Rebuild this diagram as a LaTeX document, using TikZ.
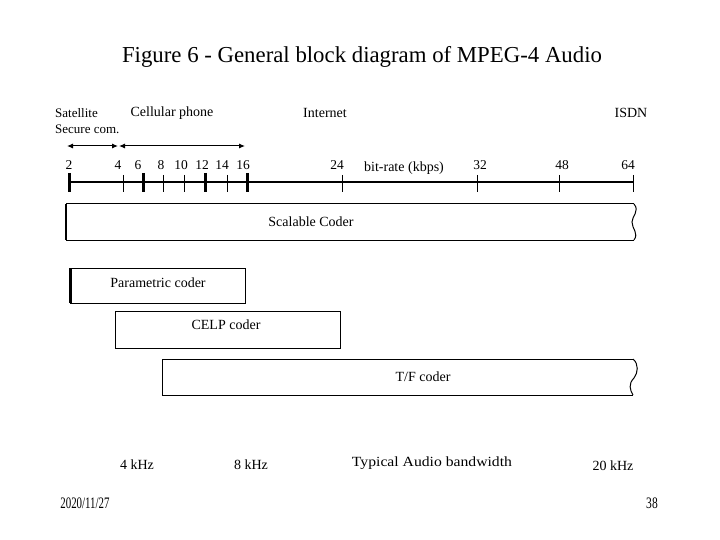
\documentclass[tikz,border=0pt]{standalone}
\usepackage{fontspec}
\setmainfont{Liberation Serif}
\usetikzlibrary{arrows.meta}
\begin{document}
\begin{tikzpicture}[x=1pt,y=-1pt,
  lbl/.style={font=\fontsize{14}{16}\selectfont, inner sep=0pt},
  slbl/.style={font=\fontsize{13}{15}\selectfont, inner sep=0pt},
  num/.style={font=\fontsize{13.5}{15}\selectfont, inner sep=0pt},
  thintick/.style={line width=1pt},
  thicktick/.style={line width=3pt},
  axisline/.style={line width=2.5pt},
  boxline/.style={line width=1pt},
  dblarrow/.style={line width=1pt, {Latex[length=6pt,width=5pt]}-{Latex[length=6pt,width=5pt]}}]
\useasboundingbox[fill=white] (0,0) rectangle (720,540);
% title
\node[font=\fontsize{22.8}{26}\selectfont, inner sep=0pt] (title) at (362,57) {Figure 6 - General block diagram of MPEG-4 Audio};
% application labels
\node[slbl, anchor=west] (sat) at (55,113) {Satellite};
\node[slbl, anchor=west] (sec) at (55,129) {Secure com.};
\node[lbl] (cell) at (172,113) {Cellular phone};
\node[lbl] (inet) at (325,113) {Internet};
\node[lbl] (isdn) at (631,113) {ISDN};
% arrows
\coordinate (a1) at (67,146);
\coordinate (a2) at (118,146);
\coordinate (a3) at (119,146);
\coordinate (a4) at (245,146);
\draw[dblarrow] (a1) -- (a2);
\draw[dblarrow] (a3) -- (a4);
% axis
\coordinate (ax0) at (68,182);
\coordinate (ax1) at (634,182);
\draw[axisline] (ax0) -- (ax1);
\foreach \x in {69,143,205,247} \draw[thicktick] (\x,173) -- (\x,192);
\foreach \x in {123,163,184,227,342,477,559,633} \draw[thintick] (\x,175) -- (\x,192);
% tick labels
\node[num] (t2) at (69,165) {2};
\node[num] (t4) at (118,165) {4};
\node[num] (t6) at (138,165) {6};
\node[num] (t8) at (161,165) {8};
\node[num] (t10) at (181,165) {10};
\node[num] (t12) at (202,165) {12};
\node[num] (t14) at (222,165) {14};
\node[num] (t16) at (243,165) {16};
\node[num] (t24) at (337,165) {24};
\node[lbl] (br) at (404,168) {bit-rate (kbps)};
\node[num] (t32) at (480,165) {32};
\node[num] (t48) at (562,165) {48};
\node[num] (t64) at (628,165) {64};
% Scalable coder
\draw[boxline] (634,204) -- (66,204) -- (66,240) -- (634,240);
\draw[line width=2pt] (66,204) -- (66,240);
\draw[line width=1pt] (634,204) .. controls (640,211) and (632,216) .. (632,222) .. controls (632,229) and (639,233) .. (634,240);
\node[lbl] (scal) at (311,222) {Scalable Coder};
% Parametric coder
\draw[boxline] (70,268) rectangle (245,303);
\draw[line width=3pt] (70,268) -- (70,303);
\node[lbl] (par) at (158,283) {Parametric coder};
% CELP coder
\draw[boxline] (115,311) rectangle (340,348);
\node[lbl] (celp) at (226,325) {CELP coder};
% T/F coder
\draw[boxline] (633,359) -- (162,359) -- (162,395) -- (633,395);
\draw[line width=1pt] (633,359) .. controls (639,364) and (638,373) .. (634,378) .. controls (628,384) and (630,390) .. (633,395);
\node[lbl] (tf) at (423,377) {T/F coder};
% bandwidth labels
\node[lbl] (k4) at (137,465) {4 kHz};
\node[lbl] (k8) at (251,465) {8 kHz};
\node[lbl] (typ) at (432,463) {\scalebox{1.12}[1]{Typical Audio bandwidth}};
\node[lbl] (k20) at (613,466) {20 kHz};
% footer
\node[inner sep=0pt] (date) at (85,503) {\scalebox{0.68}[1]{\fontsize{16}{18}\selectfont 2020/11/27}};
\node[inner sep=0pt] (page) at (652,503) {\scalebox{0.72}[1]{\fontsize{16}{18}\selectfont 38}};
\end{tikzpicture}
\end{document}
